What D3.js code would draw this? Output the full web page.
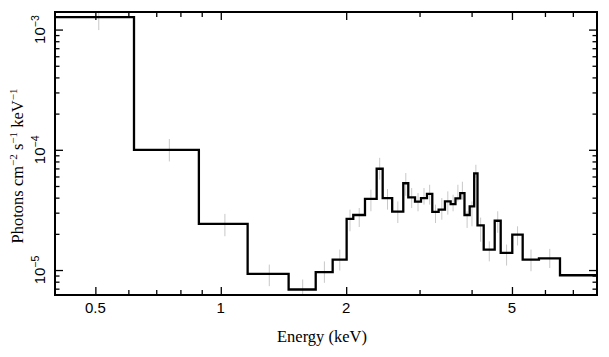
<!DOCTYPE html>
<html>
<head>
<meta charset="utf-8">
<script src="https://cdn.jsdelivr.net/npm/d3@7"></script>
<style>
  html, body { margin: 0; padding: 0; background: #fff; }
  svg { display: block; }
</style>
</head>
<body>
<svg id="chart" width="609" height="357"></svg>
<script>
// Bin edges (keV)
const edges = [0.40, 0.619, 0.886, 1.160, 1.455, 1.690, 1.856, 2.005, 2.080, 2.219,
  2.367, 2.447, 2.579, 2.742, 2.819, 2.926, 3.024, 3.126, 3.219, 3.334,
  3.452, 3.563, 3.659, 3.757, 3.846, 3.958, 4.058, 4.133, 4.277, 4.545,
  4.698, 5.009, 5.305, 5.804, 6.520, 10.0];
// Model (step) values, photons cm^-2 s^-1 keV^-1
const model = [1.27e-3, 1.0e-4, 2.42e-5, 9.30e-6, 6.89e-6, 9.62e-6, 1.22e-5, 2.66e-5, 2.87e-5, 3.90e-5,
  6.96e-5, 3.96e-5, 3.06e-5, 5.27e-5, 4.02e-5, 3.70e-5, 3.97e-5, 4.30e-5, 3.05e-5, 3.18e-5,
  3.72e-5, 3.53e-5, 3.94e-5, 4.37e-5, 2.87e-5, 3.38e-5, 6.36e-5, 2.35e-5, 1.48e-5, 2.57e-5,
  1.39e-5, 1.97e-5, 1.22e-5, 1.25e-5, 9.05e-6];
// Data error bars (lower / upper)
const errLo = [9.9e-4, 8.0e-5, 1.91e-5, 7.34e-6, 5.5e-6, 7.83e-6, 9.9e-6, 2.10e-5, 2.28e-5, 3.08e-5,
  5.64e-5, 3.18e-5, 2.46e-5, 4.15e-5, 3.28e-5, 3.08e-5, 3.50e-5, 3.50e-5, 2.46e-5, 2.62e-5,
  2.89e-5, 3.08e-5, 3.72e-5, 3.85e-5, 2.24e-5, 2.31e-5, 5.86e-5, 1.72e-5, 1.18e-5, 2.04e-5,
  1.09e-5, 1.60e-5, 9.77e-6, 1.04e-5, 7.5e-6];
const errHi = [1.6e-3, 1.23e-4, 2.93e-5, 1.11e-5, 8.34e-6, 1.18e-5, 1.48e-5, 3.18e-5, 3.28e-5, 4.66e-5,
  8.58e-5, 4.72e-5, 3.72e-5, 6.41e-5, 4.81e-5, 4.37e-5, 4.81e-5, 5.12e-5, 3.50e-5, 3.97e-5,
  4.51e-5, 4.23e-5, 5.12e-5, 5.43e-5, 3.08e-5, 3.72e-5, 7.51e-5, 2.73e-5, 1.73e-5, 3.08e-5,
  1.63e-5, 2.31e-5, 1.48e-5, 1.50e-5, 1.1e-5];

const xMajorTicks = [0.5, 1, 2, 5];
const xTickLabels = ["0.5", "1", "2", "5"];
const xMinorTicks = [0.6, 0.7, 0.8, 0.9, 3, 4, 6, 7];
const yMajorTicks = [1e-5, 1e-4, 1e-3];
const yTickExponents = ["\u22125", "\u22124", "\u22123"];
const yMinorTicks = [7e-6, 8e-6, 9e-6, 2e-5, 3e-5, 4e-5, 5e-5, 6e-5, 7e-5, 8e-5, 9e-5,
  2e-4, 3e-4, 4e-4, 5e-4, 6e-4, 7e-4, 8e-4, 9e-4];
const xDomain = [0.4, 8];
const yDomain = [6.2e-6, 1.4e-3];

const L = 55, R = 597, T = 12, B = 295;
const svg = d3.select("#chart");
svg.append("rect").attr("width", 609).attr("height", 357).attr("fill", "#fff");

const x = d3.scaleLog().domain(xDomain).range([L, R]);
const y = d3.scaleLog().domain(yDomain).range([B, T]);

svg.append("clipPath").attr("id", "clip").append("rect")
  .attr("x", L).attr("y", T).attr("width", R - L).attr("height", B - T);

const plot = svg.append("g").attr("clip-path", "url(#clip)");

// error bars
const bins = model.map((v, i) => ({ c: (edges[i] + edges[i + 1]) / 2, lo: errLo[i], hi: errHi[i] }));
plot.selectAll("line.err").data(bins).join("line")
  .attr("class", "err")
  .attr("x1", d => x(d.c)).attr("x2", d => x(d.c))
  .attr("y1", d => y(d.lo)).attr("y2", d => y(d.hi))
  .attr("stroke", "#c8c8c8").attr("stroke-width", 1);

// step model
const pts = edges.map((e, i) => [e, model[Math.min(i, model.length - 1)]]);
plot.append("path")
  .attr("d", d3.line().x(d => x(d[0])).y(d => y(d[1])).curve(d3.curveStepAfter)(pts))
  .attr("fill", "none").attr("stroke", "#000").attr("stroke-width", 2.3)
  .attr("stroke-linejoin", "miter");

// ticks (inward, mirrored)
function ticks(axisFn, scale, vals, size, transform) {
  svg.append("g").attr("transform", transform)
    .call(axisFn(scale).tickValues(vals).tickSize(size).tickFormat(""))
    .call(g => g.select(".domain").remove())
    .call(g => g.selectAll("line").attr("stroke", "#000").attr("stroke-width", 1.3));
}
ticks(d3.axisBottom, x, xMajorTicks, -8, `translate(0,${B})`);
ticks(d3.axisBottom, x, xMinorTicks, -5, `translate(0,${B})`);
ticks(d3.axisTop, x, xMajorTicks, -8, `translate(0,${T})`);
ticks(d3.axisTop, x, xMinorTicks, -5, `translate(0,${T})`);
ticks(d3.axisLeft, y, yMajorTicks, -8, `translate(${L},0)`);
ticks(d3.axisLeft, y, yMinorTicks, -4.5, `translate(${L},0)`);
ticks(d3.axisRight, y, yMajorTicks, -8, `translate(${R},0)`);
ticks(d3.axisRight, y, yMinorTicks, -4.5, `translate(${R},0)`);

// frame
svg.append("rect").attr("x", L).attr("y", T).attr("width", R - L).attr("height", B - T)
  .attr("fill", "none").attr("stroke", "#000").attr("stroke-width", 2);

const sans = "'Liberation Sans', Arial, Helvetica, sans-serif";
const serif = "'Liberation Serif', 'Times New Roman', Times, serif";

// x tick labels
svg.selectAll("text.xl").data(xMajorTicks).join("text")
  .attr("class", "xl")
  .attr("x", d => x(d)).attr("y", 313)
  .attr("text-anchor", "middle")
  .attr("font-family", sans).attr("font-size", 15)
  .text((d, i) => xTickLabels[i]);

// y tick labels
yMajorTicks.forEach((v, i) => {
  const t = svg.append("text")
    .attr("transform", `translate(45,${y(v)}) rotate(-90)`)
    .attr("text-anchor", "middle")
    .attr("font-family", sans).attr("font-size", 15);
  t.append("tspan").text("10");
  t.append("tspan").attr("dy", -6).attr("font-size", 10.5).text(yTickExponents[i]);
});

// x title
svg.append("text").attr("x", 322).attr("y", 342)
  .attr("text-anchor", "middle")
  .attr("font-family", serif).attr("font-size", 16.5)
  .text("Energy (keV)");

// y title
const yt = svg.append("text")
  .attr("transform", `translate(23,166) rotate(-90)`)
  .attr("text-anchor", "middle")
  .attr("font-family", serif).attr("font-size", 16.5);
const parts = [["Photons cm", 0], ["\u22122", 1], [" s", 0], ["\u22121", 1], [" keV", 0], ["\u22121", 1]];
parts.forEach(([s, sup]) => {
  const ts = yt.append("tspan").text(s);
  if (sup) ts.attr("font-size", 11).attr("dy", -6);
  else ts.attr("dy", 6).attr("font-size", 16.5);
});
yt.select("tspan").attr("dy", 0);
</script>
</body>
</html>
